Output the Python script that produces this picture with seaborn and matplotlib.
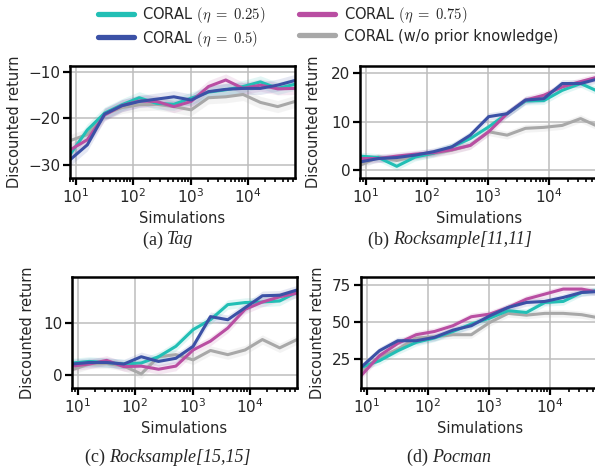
import numpy as np
import pandas as pd
import matplotlib
matplotlib.use("Agg")
import matplotlib.pyplot as plt
from matplotlib.lines import Line2D
import seaborn as sns

# ---------------- data ----------------
simulations = [8, 16, 32, 64, 128, 256, 512, 1024, 2048, 4096, 8192, 16384, 32768, 65536]
methods = [r"CORAL $(\eta\;=\;0.25)$", r"CORAL $(\eta\;=\;0.5)$",
           r"CORAL $(\eta\;=\;0.75)$", "CORAL (w/o prior knowledge)"]
colors = ["#22bfb5", "#3b51a6", "#b94ea2", "#a8a8a8"]

# (a) Tag
tag_025 = [-27.8, -22.5, -18.9, -17.1, -15.6, -16.8, -17.0, -15.7, -14.4, -13.9, -13.2, -12.2, -13.6, -12.7]
tag_050 = [-28.9, -25.7, -19.1, -17.3, -16.4, -15.9, -15.4, -16.1, -14.3, -13.8, -13.6, -13.6, -12.9, -11.9]
tag_075 = [-26.8, -24.6, -19.3, -17.3, -16.3, -16.4, -17.5, -16.4, -13.2, -11.8, -13.6, -12.9, -13.7, -13.6]
tag_wo = [-24.8, -23.5, -19.1, -17.7, -17.1, -17.0, -17.5, -18.2, -15.6, -15.4, -14.9, -16.6, -17.5, -16.4]

# (b) Rocksample[11,11]
rs11_025 = [2.9, 2.6, 0.8, 2.7, 3.5, 4.8, 6.5, 8.9, 11.6, 14.2, 14.3, 16.4, 17.8, 16.1]
rs11_050 = [1.7, 2.4, 2.6, 3.1, 3.8, 4.8, 7.2, 11.0, 11.6, 14.4, 14.7, 17.8, 17.8, 18.8]
rs11_075 = [2.4, 2.4, 2.9, 3.3, 3.6, 4.2, 5.1, 7.9, 11.6, 14.4, 15.4, 17.1, 18.2, 19.2]
rs11_wo = [1.0, 2.7, 2.0, 2.9, 3.4, 4.1, 5.1, 7.9, 7.2, 8.6, 8.8, 9.2, 10.6, 8.9]

# (c) Rocksample[15,15]
rs15_025 = [2.3, 2.6, 2.4, 2.1, 2.3, 3.5, 5.5, 8.7, 10.6, 13.5, 13.9, 14.0, 14.2, 15.9]
rs15_050 = [2.1, 2.4, 2.4, 2.1, 3.5, 2.6, 3.2, 5.5, 11.2, 10.6, 12.9, 15.2, 15.3, 16.3]
rs15_075 = [1.7, 2.1, 2.8, 1.6, 1.7, 1.1, 1.7, 4.8, 6.5, 9.0, 12.6, 14.0, 15.0, 15.7]
rs15_wo = [1.0, 2.1, 2.2, 1.7, 0.2, 3.5, 3.9, 2.9, 4.7, 3.9, 4.8, 6.8, 5.2, 6.8]

# (d) Pocman
poc_025 = [19.0, 23.5, 30.3, 36.0, 39.0, 43.4, 48.4, 52.5, 57.5, 56.3, 63.1, 63.8, 69.9, 71.5]
poc_050 = [19.0, 30.3, 37.1, 37.1, 39.4, 44.3, 47.3, 54.0, 59.7, 63.1, 63.8, 66.5, 69.9, 70.6]
poc_075 = [13.3, 26.9, 35.3, 41.2, 43.4, 47.3, 53.4, 55.2, 59.7, 65.4, 68.8, 72.2, 72.2, 69.9]
poc_wo = [16.7, 25.8, 31.4, 38.9, 39.8, 41.2, 41.2, 49.5, 55.7, 54.5, 55.7, 55.7, 54.8, 52.5]

panel_series = [
    [tag_025, tag_050, tag_075, tag_wo],
    [rs11_025, rs11_050, rs11_075, rs11_wo],
    [rs15_025, rs15_050, rs15_075, rs15_wo],
    [poc_025, poc_050, poc_075, poc_wo],
]
band_halfwidth = [1.3, 0.8, 0.9, 2.5]
caption_prefix = ["(a) ", "(b) ", "(c) ", "(d) "]
caption_name = ["Tag", "Rocksample[11,11]", "Rocksample[15,15]", "Pocman"]
ylims = [(-32.8, -8.8), (-1.6, 21.4), (-2.5, 18.8), (5, 80.4)]
yticks = [[-30, -20, -10], [0, 10, 20], [0, 10], [25, 50, 75]]

# ---------------- layout ----------------
sns.set_style("ticks")
plt.rcParams["font.family"] = ["DejaVu Sans"]
plt.rcParams["mathtext.fontset"] = "cm"

W, H = 595, 470
fig = plt.figure(figsize=(W / 100, H / 100), dpi=100)

# pixel boxes: left, top, width, height
boxes = [(70, 66, 225, 112), (360, 66, 239, 112),
         (72, 277, 225, 111), (361, 277, 239, 111)]
caption_pos = [(168, 240), (450, 240), (168, 457), (449, 457)]
ylabel_x = [15, 313, 28, 317]

draw_order = [3, 0, 2, 1]
caption_texts = []

for i, (l, t, w, h) in enumerate(boxes):
    ax = fig.add_axes([l / W, 1 - (t + h) / H, w / W, h / H])
    series = panel_series[i]
    rows = []
    for j in draw_order:
        for s, v in zip(simulations, series[j]):
            rows.append({"Simulations": s, "ret": v, "method": methods[j]})
    df = pd.DataFrame(rows)
    for j in draw_order:
        y = np.array(series[j])
        ax.fill_between(simulations, y - band_halfwidth[i], y + band_halfwidth[i],
                        color=colors[j], alpha=0.13, lw=0)
    sns.lineplot(data=df, x="Simulations", y="ret", hue="method",
                 hue_order=[methods[j] for j in draw_order],
                 palette=[colors[j] for j in draw_order],
                 lw=2.2, legend=False, ax=ax, errorbar=None)
    ax.set_xscale("log")
    ax.set_xlim(8, 65536)
    ax.set_ylim(*ylims[i])
    ax.set_yticks(yticks[i])
    ax.set_xticks([10, 100, 1000, 10000])
    ax.grid(True, which="major", color="#bdbdbd", lw=1.1)
    ax.set_axisbelow(True)
    for sp in ax.spines.values():
        sp.set_visible(True)
        sp.set_color("black")
        sp.set_linewidth(1.8)
    ax.tick_params(axis="both", which="major", direction="out", length=5,
                   width=1.6, labelsize=11, pad=2, color="black")
    ax.tick_params(axis="x", which="minor", direction="out", length=3,
                   width=1.2, color="black")
    ax.set_xlabel("Simulations", fontsize=10.5, labelpad=3)
    ax.set_ylabel("")
    fig.text(ylabel_x[i] / W, 1 - (t + h / 2) / H, "Discounted return",
             rotation=90, ha="center", va="center", fontsize=10.5)
    cx, cy = caption_pos[i]
    t1 = fig.text(cx / W, 1 - cy / H, caption_prefix[i], family="Liberation Serif",
                  fontsize=13, ha="right", va="center")
    t2 = fig.text(cx / W, 1 - cy / H, caption_name[i], family="Liberation Serif",
                  style="italic", fontsize=13, ha="left", va="center")
    caption_texts.append((t1, t2))

# center the two-part captions
fig.canvas.draw()
renderer = fig.canvas.get_renderer()
for a, b in caption_texts:
    wa = a.get_window_extent(renderer).width
    wb = b.get_window_extent(renderer).width
    x0, y0 = a.get_position()
    shift = (wa - (wa + wb) / 2) / W
    a.set_position((x0 + shift, y0))
    b.set_position((x0 + shift, y0))

handles = [Line2D([0], [0], color=c, lw=3.8) for c in colors]
fig.legend(handles, methods, loc="upper center",
           bbox_to_anchor=(328 / W, 1 - 2 / H),
           ncol=2, frameon=False, fontsize=10.5, handlelength=2.45,
           columnspacing=2.3, handletextpad=0.6, labelspacing=0.25,
           borderaxespad=0.0, borderpad=0.2)

fig.savefig("out.png", dpi=100)
